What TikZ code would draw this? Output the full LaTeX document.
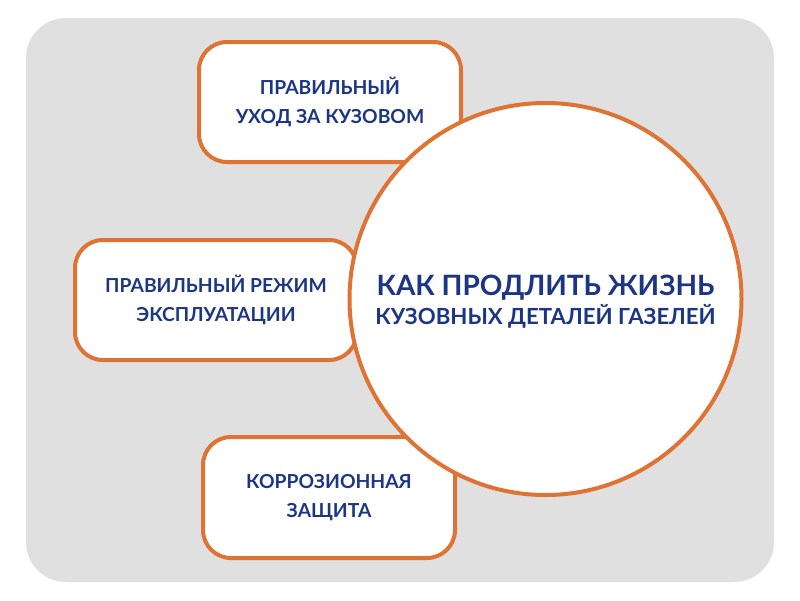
\documentclass[tikz,border=0pt]{standalone}
\usepackage{fontspec}
\setmainfont{Lato}
\definecolor{bggray}{HTML}{E0E0E0}
\definecolor{orng}{HTML}{DF7334}
\definecolor{navy}{HTML}{1C3683}
\tikzset{
  pill/.style={draw=orng, line width=4pt, fill=white, rounded corners=28pt,
    text=navy, align=center, font=\fontsize{19.3}{29}\selectfont\bfseries},
  bigcircle/.style={circle, draw=orng, line width=4pt, fill=white,
    inner sep=0pt, minimum size=392pt},
  titletext/.style={text=navy, align=center, inner sep=0pt}
}
\begin{document}
\begin{tikzpicture}[x=1pt,y=-1pt]
\useasboundingbox (0,0) rectangle (800,600);
\fill[bggray, rounded corners=40pt] (26,18) rectangle (774,582);
\node[pill, minimum width=262pt, minimum height=120pt] (care) at (330,102)
  {ПРАВИЛЬНЫЙ\\УХОД ЗА КУЗОВОМ};
\node[pill, minimum width=282pt, minimum height=120pt] (mode) at (216,300)
  {ПРАВИЛЬНЫЙ РЕЖИМ\\ЭКСПЛУАТАЦИИ};
\node[pill, minimum width=252pt, minimum height=121pt] (corr) at (329,497.5)
  {КОРРОЗИОННАЯ\\ЗАЩИТА};
\node[bigcircle] (main) at (545.5,299) {};
\node[titletext] (title) at (545.5,302)
  {{\fontsize{28}{32}\selectfont\bfseries КАК ПРОДЛИТЬ ЖИЗНЬ}\\[3pt]
   {\fontsize{22.2}{26}\selectfont\bfseries КУЗОВНЫХ ДЕТАЛЕЙ ГАЗЕЛЕЙ}};
\end{tikzpicture}
\end{document}
